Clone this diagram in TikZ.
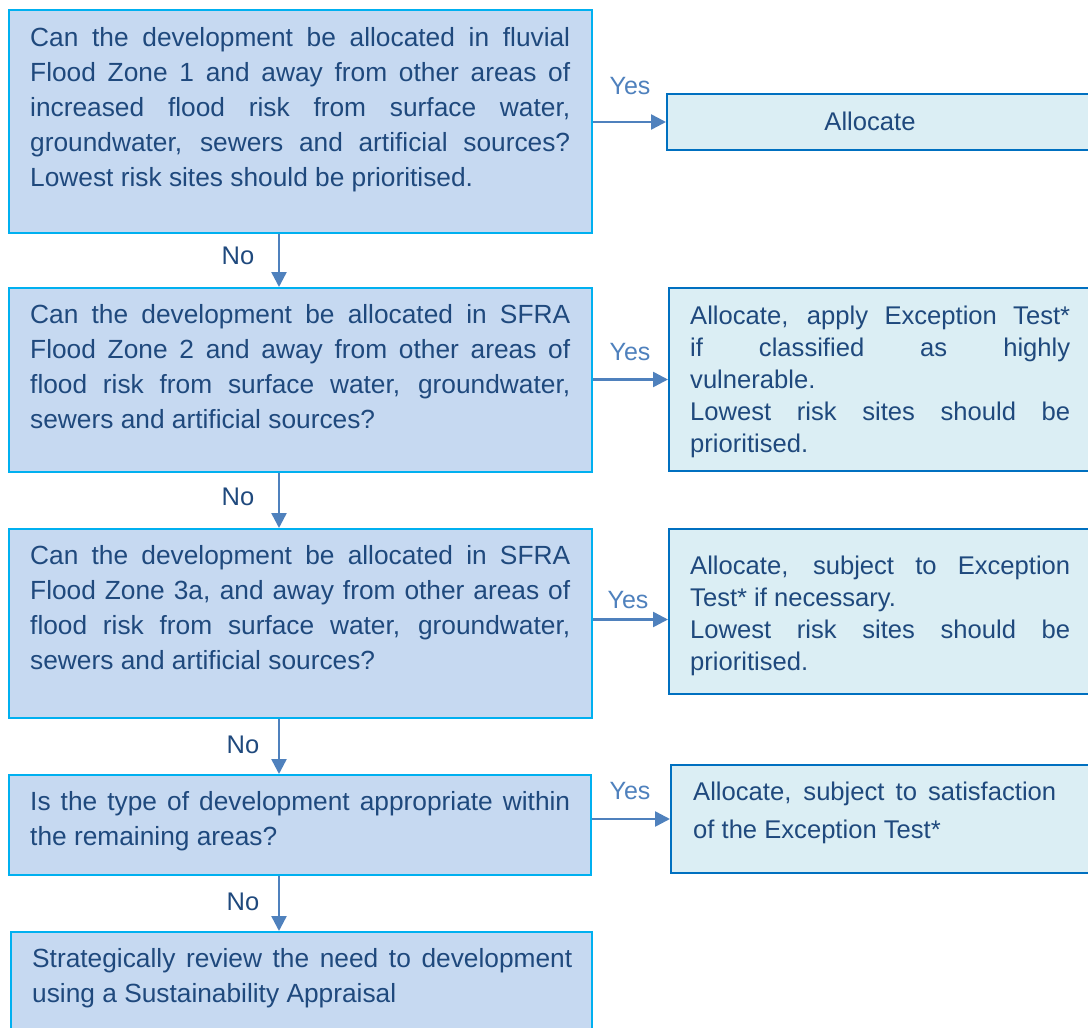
\documentclass[tikz,border=0pt]{standalone}
\usepackage{fontspec}
\setmainfont{Liberation Sans}
\usetikzlibrary{arrows.meta}
\setlength{\parindent}{0pt}
\hyphenpenalty=10000
\exhyphenpenalty=10000
\tolerance=9999
\hbadness=10000
\begin{document}
\begin{tikzpicture}[x=1pt, y=-1pt,
    qbox/.style={draw=qedge, fill=qfill, line width=2pt, anchor=north west, inner sep=0pt},
    abox/.style={draw=aedge, fill=afill, line width=2pt, anchor=north west, inner sep=0pt},
    qtext/.style={anchor=base west, inner sep=0pt, text width=540pt, align=justify, text=navy, font=\fontsize{26.3}{35}\selectfont},
    atext/.style={anchor=base west, inner sep=0pt, text width=380pt, align=justify, text=navy, font=\fontsize{25.6}{32}\selectfont},
    nolbl/.style={inner sep=0pt, text=navy, font=\fontsize{25.5}{30}\selectfont},
    yeslbl/.style={inner sep=0pt, text=arrowblue, font=\fontsize{25}{30}\selectfont},
    arr/.style={draw=arrowblue, line width=2.5pt, -{Triangle[length=15pt, width=15pt]}}]
\definecolor{navy}{RGB}{31,73,125}
\definecolor{arrowblue}{RGB}{79,129,189}
\definecolor{qfill}{RGB}{198,217,241}
\definecolor{qedge}{RGB}{0,176,240}
\definecolor{afill}{RGB}{219,238,244}
\definecolor{aedge}{RGB}{0,112,192}
\path[use as bounding box, clip] (0,0) rectangle (1088,1028);
\coordinate (spine) at (279,0);
\node[qbox, minimum width=583pt, minimum height=223pt] (q1) at (8,9) {};
\node[qbox, minimum width=583pt, minimum height=184pt] (q2) at (8,287) {};
\node[qbox, minimum width=583pt, minimum height=189pt] (q3) at (8,528) {};
\node[qbox, minimum width=582pt, minimum height=100pt] (q4) at (8,774) {};
\node[qbox, minimum width=581pt, minimum height=110pt] (q5) at (10,931) {};
\node[abox, minimum width=430pt, minimum height=56pt] (a1) at (666,93) {};
\node[abox, minimum width=430pt, minimum height=183pt] (a2) at (668,287) {};
\node[abox, minimum width=430pt, minimum height=165pt] (a3) at (668,528) {};
\node[abox, minimum width=430pt, minimum height=108pt] (a4) at (670,764) {};
\node[qtext] (q1t) at (30,46) {Can the development be allocated in fluvial\linebreak
    Flood Zone 1 and away from other areas of\linebreak
    increased flood risk from surface water,\linebreak
    groundwater, sewers and artificial sources?\linebreak
    Lowest risk sites should be prioritised.};
\node[qtext] (q2t) at (30,323) {Can the development be allocated in SFRA\linebreak
    Flood Zone 2 and away from other areas of\linebreak
    flood risk from surface water, groundwater,\linebreak
    sewers and artificial sources?};
\node[qtext] (q3t) at (30,564) {Can the development be allocated in SFRA\linebreak
    Flood Zone 3a, and away from other areas of\linebreak
    flood risk from surface water, groundwater,\linebreak
    sewers and artificial sources?};
\node[qtext] (q4t) at (30,810) {Is the type of development appropriate within\linebreak
    the remaining areas?};
\node[qtext] (q5t) at (32,967) {Strategically review the need to development\linebreak
    using a Sustainability Appraisal};
\node[inner sep=0pt, text=navy, font=\fontsize{25.6}{32}\selectfont] (a1t) at (870,121) {Allocate};
\node[atext] (a2t) at (690,324) {Allocate, apply Exception Test*\linebreak
    if classified as highly\linebreak
    vulnerable.\par
    Lowest risk sites should be\linebreak
    prioritised.};
\node[atext] (a3t) at (690,574) {Allocate, subject to Exception\linebreak
    Test* if necessary.\par
    Lowest risk sites should be\linebreak
    prioritised.};
\node[atext, text width=363pt, font=\fontsize{25.6}{38}\selectfont] (a4t) at (693,800) {Allocate, subject to satisfaction\linebreak
    of the Exception Test*};
\draw[arr] (q1.south -| spine) -- (q2.north -| spine);
\draw[arr] (q2.south -| spine) -- (q3.north -| spine);
\draw[arr] (q3.south -| spine) -- (q4.north -| spine);
\draw[arr] (q4.south -| spine) -- (q5.north -| spine);
\draw[arr] (a1.west -| q1.east) -- (a1.west);
\draw[arr] (a2.west -| q2.east) -- (a2.west);
\draw[arr] ([yshift=-8pt]a3.west -| q3.east) -- ([yshift=-8pt]a3.west);
\draw[arr] (a4.west -| q4.east) -- (a4.west);
\node[nolbl] (no1) at (238,256) {No};
\node[nolbl] (no2) at (238,497) {No};
\node[nolbl] (no3) at (243,745) {No};
\node[nolbl] (no4) at (243,902) {No};
\node[yeslbl] (yes1) at (630,86) {Yes};
\node[yeslbl] (yes2) at (630,352) {Yes};
\node[yeslbl] (yes3) at (628,600) {Yes};
\node[yeslbl] (yes4) at (630,791) {Yes};
\end{tikzpicture}
\end{document}
